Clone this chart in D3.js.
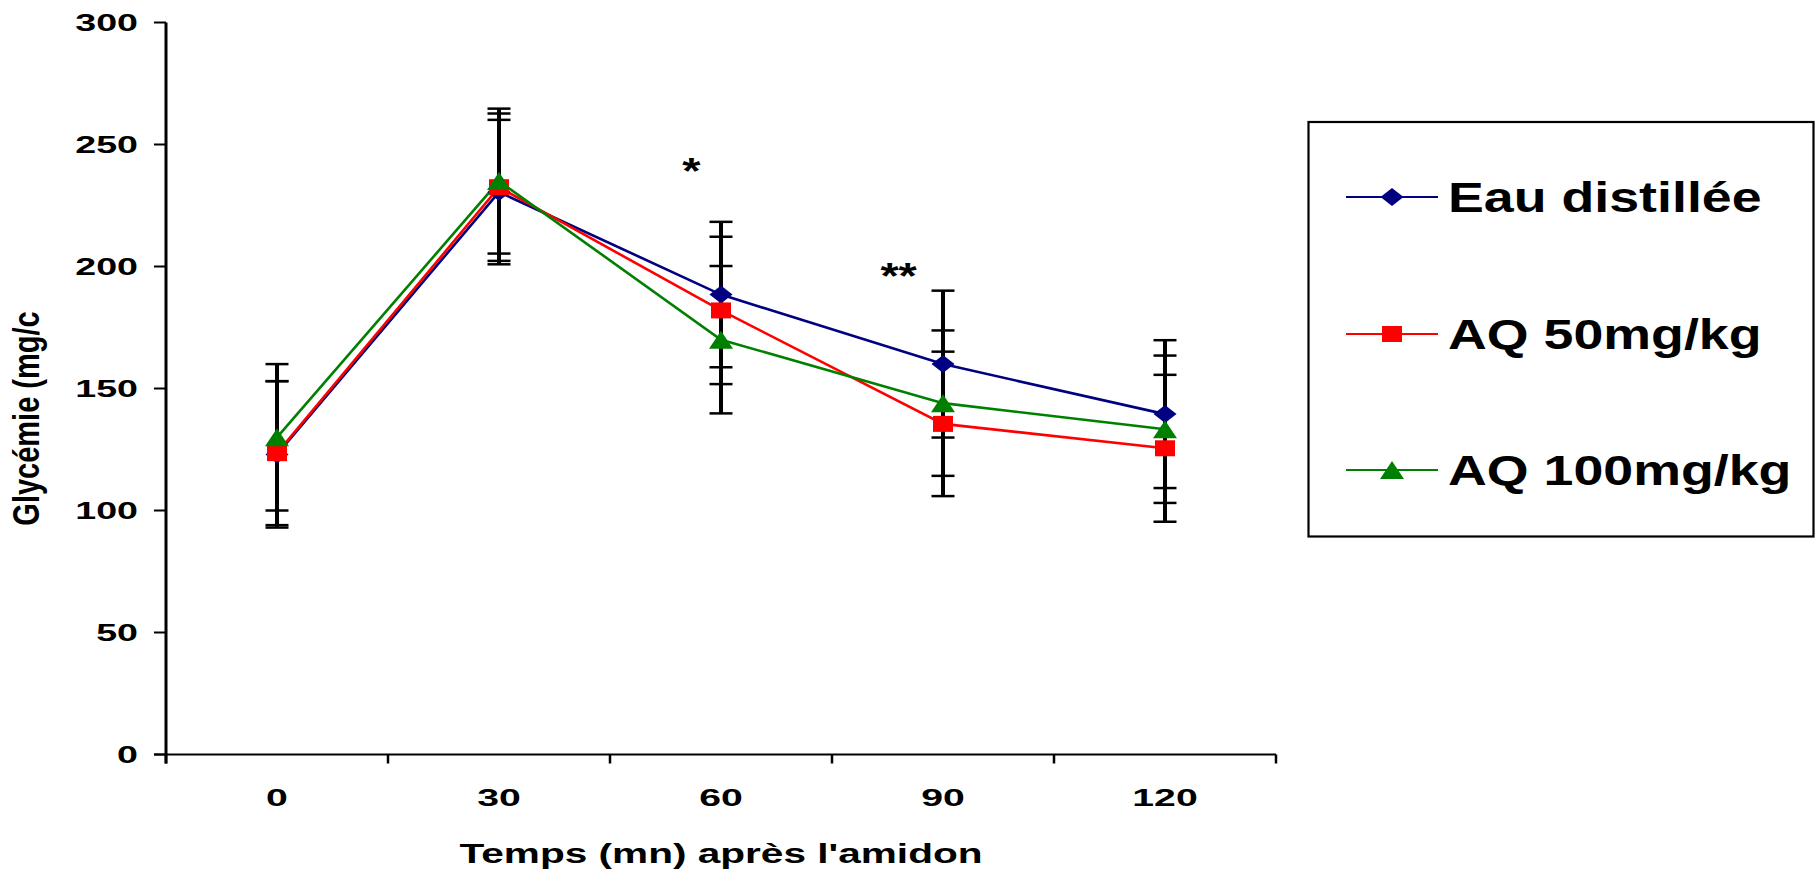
<!DOCTYPE html>
<html>
<head>
<meta charset="utf-8">
<script src="https://cdn.jsdelivr.net/npm/d3@7/dist/d3.min.js"></script>
<style>
  html, body { margin: 0; padding: 0; background: #fff; }
  svg { display: block; }
  text { font-family: "Liberation Sans", Arial, sans-serif; font-weight: bold; fill: #000; }
</style>
</head>
<body>
<svg id="chart" width="1816" height="873"></svg>
<script>
// ---------- data ----------
const times = [0, 30, 60, 90, 120];
const xTickLabels = ["0", "30", "60", "90", "120"];
const yTicks = [0, 50, 100, 150, 200, 250, 300];
const seriesNames = ["Eau distillée", "AQ 50mg/kg", "AQ 100mg/kg"];
const eauValues   = [123, 230.5, 188.5, 160, 139.5];
const eauErrors   = [30, 29.6, 29.8, 30.1, 30.3];
const aq50Values  = [123.5, 232.5, 182, 135.5, 125.5];
const aq50Errors  = [29.5, 30.2, 30.2, 29.6, 30.1];
const aq100Values = [130, 235, 170, 144, 133.3];
const aq100Errors = [30, 29.7, 30.2, 29.8, 30.2];
const annotTimes  = [56, 84];
const annotValues = [241, 198];
const annotTexts  = ["*", "**"];
const xTitle = "Temps (mn) après l'amidon";
const yTitle = "Glycémie (mg/c";

// ---------- layout / style ----------
const colors = ["#000080", "#FF0000", "#008000"];
const shapes = ["diamond", "square", "triangle"];
const plot = { left: 166, right: 1276, top: 22.5, bottom: 754.5 };

const svg = d3.select("#chart");
const x = d3.scaleLinear().domain([-15, 135]).range([plot.left, plot.right]);
const y = d3.scaleLinear().domain([0, 300]).range([plot.bottom, plot.top]);

const series = [
  { name: seriesNames[0], values: eauValues, errors: eauErrors },
  { name: seriesNames[1], values: aq50Values, errors: aq50Errors },
  { name: seriesNames[2], values: aq100Values, errors: aq100Errors }
].map((s, i) => ({ ...s, color: colors[i], shape: shapes[i],
  points: times.map((t, j) => ({ t, v: s.values[j], e: s.errors[j] })) }));

function markerPath(shape) {
  if (shape === "diamond") { const w = 11.5, h = 9; return `M${-w},0L0,${-h}L${w},0L0,${h}Z`; }
  if (shape === "square")  { const w = 10, h = 8;   return `M${-w},${-h}H${w}V${h}H${-w}Z`; }
  const w = 12, h = 9; return `M0,${-h}L${w},${h}L${-w},${h}Z`;
}

function stretchedText(g, str, px, py, size, sx, anchor) {
  return g.append("text")
    .attr("transform", `translate(${px},${py}) scale(${sx},1)`)
    .attr("text-anchor", anchor)
    .attr("font-size", size)
    .text(str);
}

// ---------- axes ----------
const axes = svg.append("g");
axes.append("line").attr("x1", x(-15)).attr("x2", x(-15))
  .attr("y1", y(300)).attr("y2", y(0) + 9)
  .attr("stroke", "#000").attr("stroke-width", 3);
axes.selectAll(".ytick").data(yTicks).enter().append("line")
  .attr("x1", x(-15) - 12).attr("x2", x(-15))
  .attr("y1", d => y(d)).attr("y2", d => y(d))
  .attr("stroke", "#000").attr("stroke-width", 2);
yTicks.forEach(v => stretchedText(axes, String(v), 138, y(v) + 8.5, 23.5, 1.6, "end"));
axes.append("line").attr("x1", x(-15) - 12).attr("x2", x(135))
  .attr("y1", y(0)).attr("y2", y(0))
  .attr("stroke", "#000").attr("stroke-width", 2.2);
const xBounds = [-15, 15, 45, 75, 105, 135];
axes.selectAll(".xtick").data(xBounds).enter().append("line")
  .attr("x1", d => x(d)).attr("x2", d => x(d))
  .attr("y1", y(0)).attr("y2", y(0) + 9)
  .attr("stroke", "#000").attr("stroke-width", 2.5);
times.forEach((t, i) => stretchedText(axes, xTickLabels[i], x(t), 806, 24.5, 1.6, "middle"));

// titles
stretchedText(svg, xTitle, (plot.left + plot.right) / 2, 863, 28, 1.45, "middle");
svg.append("text")
  .attr("transform", `translate(39,${(y(300) + y(0)) / 2 + 30}) scale(1.25,1) rotate(-90)`)
  .attr("text-anchor", "middle").attr("font-size", 29).text(yTitle);

// ---------- error bars ----------
const eb = svg.append("g");
series.forEach(s => {
  s.points.forEach(p => {
    eb.append("line").attr("x1", x(p.t)).attr("x2", x(p.t))
      .attr("y1", y(p.v - p.e)).attr("y2", y(p.v + p.e))
      .attr("stroke", "#000").attr("stroke-width", 4);
    [p.v - p.e, p.v + p.e].forEach(c => {
      eb.append("line").attr("x1", x(p.t) - 11.5).attr("x2", x(p.t) + 11.5)
        .attr("y1", y(c)).attr("y2", y(c))
        .attr("stroke", "#000").attr("stroke-width", 2.5);
    });
  });
});

// ---------- lines & markers ----------
const line = d3.line().x(d => x(d.t)).y(d => y(d.v));
series.forEach(s => {
  svg.append("path").datum(s.points).attr("d", line)
    .attr("fill", "none").attr("stroke", s.color).attr("stroke-width", 2.6);
});
series.forEach(s => {
  svg.append("g").selectAll("path").data(s.points).enter().append("path")
    .attr("transform", d => `translate(${x(d.t)},${y(d.v)})`)
    .attr("d", markerPath(s.shape)).attr("fill", s.color);
});

// ---------- annotations ----------
annotTimes.forEach((t, i) => {
  stretchedText(svg, annotTexts[i], x(t), y(annotValues[i]) + 17.5, 36, 1.3, "middle");
});

// ---------- legend ----------
const legend = svg.append("g");
legend.append("rect").attr("x", 1308.5).attr("y", 122).attr("width", 505).attr("height", 414.5)
  .attr("fill", "none").attr("stroke", "#000").attr("stroke-width", 2.2);
const rowY = [197, 334, 470];
series.forEach((s, i) => {
  legend.append("line").attr("x1", 1346).attr("x2", 1438)
    .attr("y1", rowY[i]).attr("y2", rowY[i])
    .attr("stroke", s.color).attr("stroke-width", 2.2);
  legend.append("path").attr("transform", `translate(1392,${rowY[i]})`)
    .attr("d", markerPath(s.shape)).attr("fill", s.color);
  stretchedText(legend, s.name, 1448, rowY[i] + 14.5, 42, 1.28, "start");
});
</script>
</body>
</html>
